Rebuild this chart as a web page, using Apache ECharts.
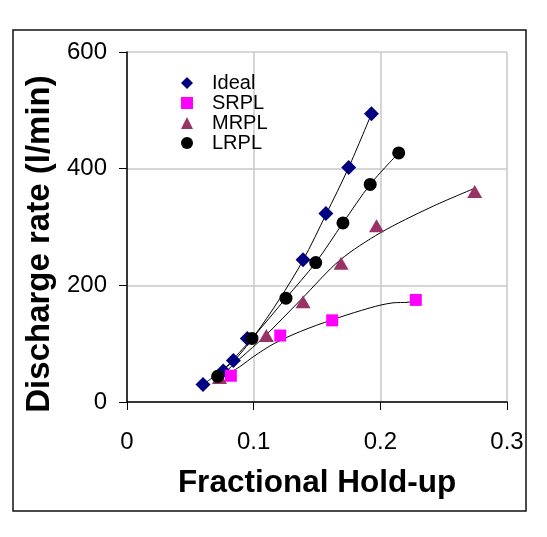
<!DOCTYPE html>
<html>
<head>
<meta charset="utf-8">
<script src="https://cdn.jsdelivr.net/npm/echarts@6/dist/echarts.min.js"></script>
<style>
html,body{margin:0;padding:0;background:#fff;}
#chart{width:547px;height:537px;}
</style>
</head>
<body>
<div id="chart"></div>
<script>
// Axis ticks
var xTicks = [0, 0.1, 0.2, 0.3];
var yTicks = [0, 200, 400, 600];

// Measured points
var idealX = [0.060, 0.076, 0.084, 0.095, 0.139, 0.157, 0.175, 0.193];
var idealY = [30, 53, 71, 109, 244, 323, 402, 494];
var srplX = [0.082, 0.121, 0.162, 0.228];
var srplY = [45, 114, 140, 175];
var mrplX = [0.073, 0.110, 0.139, 0.169, 0.197, 0.2745];
var mrplY = [42, 114, 172, 238, 302, 361];
var lrplX = [0.0716, 0.0987, 0.1255, 0.149, 0.1705, 0.192, 0.2145];
var lrplY = [44, 109, 178, 239, 307, 373, 427];

// Trend lines
var idealTrendX = [0.060, 0.084, 0.100, 0.120, 0.139, 0.157, 0.175, 0.193];
var idealTrendY = [30, 70, 112, 175, 243, 321, 402, 494];
var srplTrendX = [0.080, 0.090, 0.100, 0.116, 0.137, 0.162, 0.185, 0.200, 0.210, 0.222, 0.228];
var srplTrendY = [48, 62, 78, 100, 121, 141, 157, 166, 170, 171, 174];
var mrplTrendX = [0.073, 0.090, 0.108, 0.138, 0.168, 0.200, 0.240, 0.274];
var mrplTrendY = [42, 76, 111, 177, 243, 290, 334, 366];
var lrplTrendX = [0.0716, 0.0987, 0.1255, 0.149, 0.1705, 0.192, 0.2145];
var lrplTrendY = [44, 109, 178, 239, 307, 373, 427];

var names = ['Ideal', 'SRPL', 'MRPL', 'LRPL'];
var colors = ['#000080', '#FF00FF', '#993366', '#000000'];
var symbols = ['diamond', 'rect', 'triangle', 'circle'];
var sizes = [[15, 15], [12, 12], [15, 13], [13, 13]];

function zip(xs, ys) { return xs.map(function (x, i) { return [x, ys[i]]; }); }

var pts = [zip(idealX, idealY), zip(srplX, srplY), zip(mrplX, mrplY), zip(lrplX, lrplY)];
var trends = [zip(idealTrendX, idealTrendY), zip(srplTrendX, srplTrendY), zip(mrplTrendX, mrplTrendY), zip(lrplTrendX, lrplTrendY)];

var series = [];
trends.forEach(function (t, i) {
  series.push({
    name: names[i] + ' trend', type: 'line', data: t, smooth: 0.3,
    showSymbol: false, symbol: 'none', silent: true, z: 1,
    lineStyle: { color: '#000', width: 1 }
  });
});
pts.forEach(function (p, i) {
  series.push({
    name: names[i], type: 'scatter', data: p, symbol: symbols[i], symbolSize: sizes[i],
    itemStyle: { color: colors[i], opacity: 1 }, z: 3
  });
});

var font = 'Arial, "Liberation Sans", Helvetica, sans-serif';
var chart = echarts.init(document.getElementById('chart'), null, { renderer: 'canvas' });
chart.setOption({
  animation: false,
  backgroundColor: '#fff',
  grid: { left: 127, right: 40, top: 52, bottom: 135, containLabel: false },
  graphic: [{
    type: 'rect', shape: { x: 13, y: 30, width: 513, height: 481 },
    style: { fill: 'none', stroke: '#111', lineWidth: 1.5 }, silent: true, z: -1
  }],
  legend: {
    data: names, orient: 'vertical', left: 176, top: 68,
    itemWidth: 12, itemHeight: 12, itemGap: 0,
    textStyle: { fontFamily: font, fontSize: 20, color: '#000', padding: [0, 0, 0, 14] }
  },
  xAxis: {
    type: 'value', min: xTicks[0], max: xTicks[xTicks.length - 1], interval: 0.1,
    name: 'Fractional Hold-up', nameLocation: 'middle', nameGap: 65,
    nameTextStyle: { fontFamily: font, fontSize: 31.5, fontWeight: 'bold', color: '#000' },
    axisLine: { lineStyle: { color: '#000', width: 1.5 } },
    axisTick: { show: true, inside: false, length: 8, lineStyle: { color: '#000' } },
    axisLabel: { fontFamily: font, fontSize: 24, color: '#000', margin: 28 },
    splitLine: { show: true, lineStyle: { color: '#c8c8c8', width: 1.5 } }
  },
  yAxis: {
    type: 'value', min: yTicks[0], max: yTicks[yTicks.length - 1], interval: 200,
    name: 'Discharge rate (l/min)', nameLocation: 'middle', nameGap: 69,
    nameTextStyle: { fontFamily: font, fontSize: 33, fontWeight: 'bold', color: '#000', padding: [0, 34, 0, 0] },
    axisLine: { show: true, lineStyle: { color: '#000', width: 1.5 } },
    axisTick: { show: true, inside: false, length: 8, lineStyle: { color: '#000' } },
    axisLabel: { fontFamily: font, fontSize: 24, color: '#000', margin: 20 },
    splitLine: { show: true, lineStyle: { color: '#c8c8c8', width: 1.5 } }
  },
  series: series
});
</script>
</body>
</html>
